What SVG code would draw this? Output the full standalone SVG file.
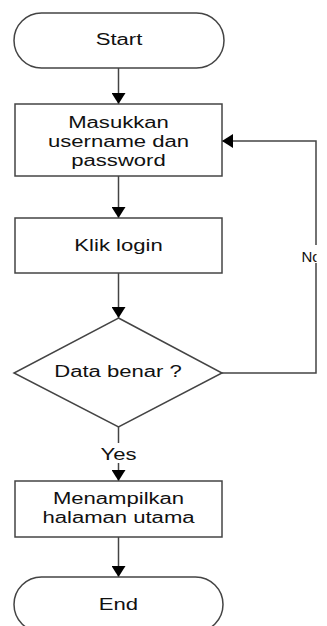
<svg xmlns="http://www.w3.org/2000/svg" width="327" height="626" viewBox="0 0 327 626">
<style>
.shape{fill:#fff;stroke:#444;stroke-width:1.5}
.conn{fill:none;stroke:#444;stroke-width:1.5}
.t{font-family:"Liberation Sans",Arial,sans-serif;font-size:16px;fill:#111;text-anchor:middle}
.tl{font-family:"Liberation Sans",Arial,sans-serif;font-size:15px;fill:#111}
</style>
<defs>
<marker id="ah" markerUnits="userSpaceOnUse" viewBox="0 0 11 14" markerWidth="11" markerHeight="14" refX="11" refY="7" orient="auto">
<path d="M0,0 L11,7 L0,14 z" fill="#000"/>
</marker>
<clipPath id="noclip"><rect x="290" y="240" width="26.5" height="30"/></clipPath>
</defs>
<rect width="327" height="626" fill="#fff"/>
<g id="connectors">
<line class="conn" x1="118.5" y1="68" x2="118.5" y2="104" marker-end="url(#ah)"/>
<line class="conn" x1="118.5" y1="176" x2="118.5" y2="218" marker-end="url(#ah)"/>
<line class="conn" x1="118.5" y1="273" x2="118.5" y2="318" marker-end="url(#ah)"/>
<line class="conn" x1="118.5" y1="427" x2="118.5" y2="443"/>
<line class="conn" x1="118.5" y1="463" x2="118.5" y2="481" marker-end="url(#ah)"/>
<line class="conn" x1="118.5" y1="537" x2="118.5" y2="577" marker-end="url(#ah)"/>
<polyline class="conn" points="222,373 316,373 316,263"/>
<polyline class="conn" points="316,245 316,141 222,141" marker-end="url(#ah)"/>
<text class="t" transform="matrix(1.38 0 0 1 118.5 460)">Yes</text>
<g clip-path="url(#noclip)">
<text class="tl" x="301.5" y="262">No</text>
</g>
</g>
<g id="start">
<rect class="shape" x="14" y="13" width="210" height="55" rx="27.5" ry="27.5"/>
<text class="t" transform="matrix(1.38 0 0 1 119 45)">Start</text>
</g>
<g id="input">
<rect class="shape" x="15" y="104" width="207" height="72"/>
<text class="t" transform="matrix(1.38 0 0 1 118.5 128)">Masukkan</text>
<text class="t" transform="matrix(1.38 0 0 1 118.5 147)">username dan</text>
<text class="t" transform="matrix(1.38 0 0 1 118.5 166)">password</text>
</g>
<g id="login">
<rect class="shape" x="15" y="218" width="207" height="55"/>
<text class="t" transform="matrix(1.38 0 0 1 118.5 251)">Klik login</text>
</g>
<g id="decision">
<polygon class="shape" points="118.5,318 222,373 118.5,427 14,373"/>
<text class="t" transform="matrix(1.38 0 0 1 118 377)">Data benar ?</text>
</g>
<g id="main">
<rect class="shape" x="15" y="481" width="207" height="56"/>
<text class="t" transform="matrix(1.38 0 0 1 118.5 504)">Menampilkan</text>
<text class="t" transform="matrix(1.38 0 0 1 118.5 523)">halaman utama</text>
</g>
<g id="end">
<rect class="shape" x="14" y="577" width="209" height="55" rx="27.5" ry="27.5"/>
<text class="t" transform="matrix(1.38 0 0 1 118.5 610)">End</text>
</g>
</svg>
